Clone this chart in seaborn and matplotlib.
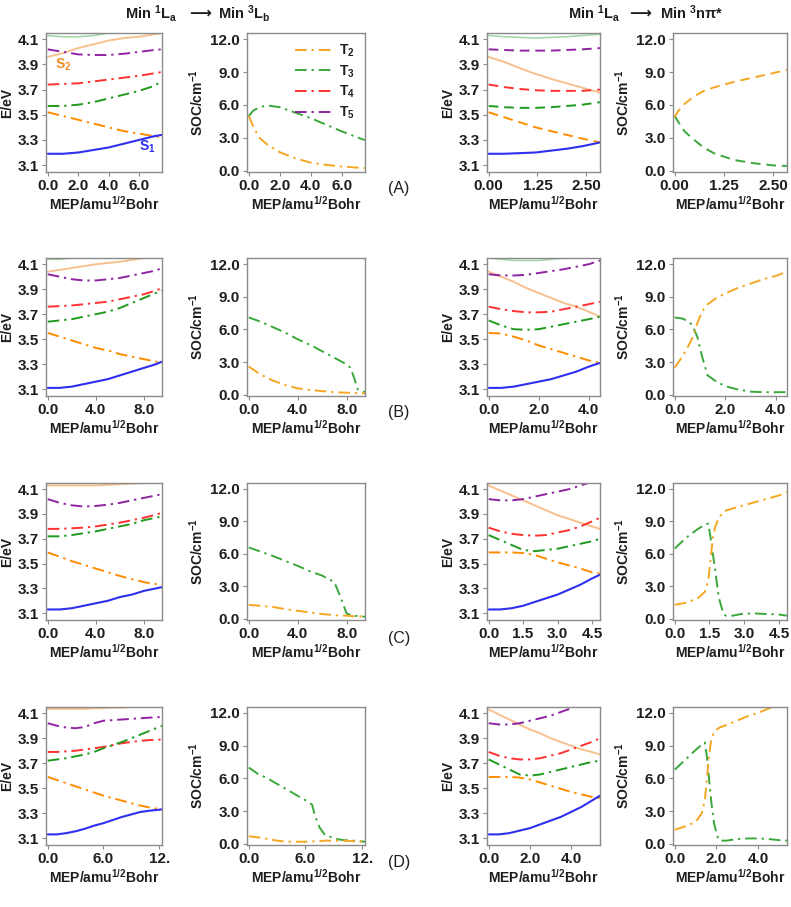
import numpy as np
import pandas as pd
import matplotlib
matplotlib.use("Agg")
import matplotlib.pyplot as plt
from matplotlib.lines import Line2D
import seaborn as sns

# ---------------- data ----------------
# Row A, left (Min 1La -> Min 3Lb)
A_L_x = [0, 1, 2, 3, 4, 5, 6, 7, 7.5]
A_L_S1 = [3.19, 3.19, 3.20, 3.22, 3.24, 3.27, 3.30, 3.33, 3.34]
A_L_S2 = [3.96, 3.99, 4.03, 4.06, 4.09, 4.11, 4.12, 4.14, 4.15]
A_L_T2 = [3.52, 3.49, 3.46, 3.43, 3.40, 3.37, 3.35, 3.33, 3.32]
A_L_T3 = [3.57, 3.57, 3.58, 3.60, 3.63, 3.66, 3.69, 3.73, 3.77]
A_L_T4 = [3.74, 3.745, 3.75, 3.765, 3.78, 3.795, 3.81, 3.83, 3.84]
A_L_T5 = [4.02, 4.00, 3.98, 3.975, 3.975, 3.985, 4.00, 4.015, 4.02]
A_L_T6 = [4.13, 4.12, 4.12, 4.13, 4.15, 4.17, 4.19, 4.21, 4.22]
A_L_soc_x = [0, 0.3, 0.7, 1.2, 2, 3, 4, 5, 6, 7, 7.5]
A_L_soc_T2 = [5.0, 4.0, 3.0, 2.4, 1.7, 1.15, 0.75, 0.55, 0.4, 0.3, 0.25]
A_L_soc_T3 = [5.0, 5.5, 5.8, 5.95, 5.8, 5.3, 4.8, 4.2, 3.6, 3.05, 2.8]

# Row A, right (Min 1La -> Min 3npi*)
A_R_x = [0, 0.4, 0.8, 1.2, 1.6, 2.0, 2.4, 2.85]
A_R_S1 = [3.19, 3.19, 3.195, 3.20, 3.215, 3.23, 3.25, 3.28]
A_R_S2 = [3.96, 3.92, 3.87, 3.825, 3.785, 3.75, 3.715, 3.675]
A_R_T2 = [3.52, 3.48, 3.44, 3.40, 3.37, 3.34, 3.31, 3.28]
A_R_T3 = [3.57, 3.56, 3.555, 3.555, 3.56, 3.57, 3.58, 3.60]
A_R_T4 = [3.74, 3.72, 3.705, 3.695, 3.69, 3.69, 3.69, 3.70]
A_R_T5 = [4.02, 4.015, 4.01, 4.01, 4.01, 4.015, 4.02, 4.03]
A_R_T6 = [4.13, 4.12, 4.115, 4.11, 4.115, 4.12, 4.13, 4.14]
A_R_soc_x = [0, 0.1, 0.25, 0.5, 0.75, 1.0, 1.5, 2.0, 2.5, 2.85]
A_R_soc_T2 = [4.9, 5.5, 6.1, 6.8, 7.3, 7.6, 8.1, 8.5, 8.9, 9.2]
A_R_soc_T3 = [5.0, 4.4, 3.6, 2.8, 2.1, 1.6, 1.0, 0.7, 0.5, 0.45]

# Row B, left
B_L_x = [0, 1, 2, 3, 4, 5, 6, 7, 8, 9, 9.5]
B_L_S1 = [3.11, 3.11, 3.12, 3.14, 3.16, 3.18, 3.21, 3.24, 3.27, 3.30, 3.32]
B_L_S2 = [4.04, 4.055, 4.07, 4.085, 4.10, 4.11, 4.12, 4.135, 4.15, 4.165, 4.17]
B_L_T2 = [3.55, 3.52, 3.49, 3.46, 3.43, 3.41, 3.38, 3.36, 3.34, 3.32, 3.31]
B_L_T3 = [3.64, 3.65, 3.66, 3.68, 3.70, 3.72, 3.75, 3.79, 3.83, 3.87, 3.89]
B_L_T4 = [3.76, 3.765, 3.77, 3.78, 3.79, 3.80, 3.82, 3.84, 3.86, 3.89, 3.91]
B_L_T5 = [4.02, 4.00, 3.98, 3.97, 3.97, 3.98, 3.99, 4.01, 4.03, 4.05, 4.07]
B_L_T6 = [4.14, 4.14, 4.15, 4.17, 4.19, 4.21, 4.23, 4.25, 4.27, 4.29, 4.30]
B_L_soc_x = [0, 1, 2, 3, 4, 5, 6, 7, 8, 8.3, 8.6, 8.9, 9.5]
B_L_soc_T2 = [2.6, 1.85, 1.3, 0.9, 0.6, 0.45, 0.35, 0.25, 0.2, 0.2, 0.18, 0.15, 0.15]
B_L_soc_T3 = [7.1, 6.7, 6.2, 5.7, 5.1, 4.6, 4.0, 3.4, 2.8, 2.5, 1.6, 0.5, 0.25]

# Row B, right
B_R_x = [0, 0.5, 1, 1.5, 2, 2.5, 3, 3.5, 4, 4.45]
B_R_S1 = [3.11, 3.11, 3.12, 3.14, 3.16, 3.18, 3.21, 3.24, 3.28, 3.31]
B_R_S2 = [4.04, 4.00, 3.96, 3.91, 3.87, 3.83, 3.79, 3.76, 3.72, 3.68]
B_R_T2 = [3.55, 3.545, 3.52, 3.49, 3.45, 3.42, 3.39, 3.36, 3.33, 3.31]
B_R_T3 = [3.65, 3.61, 3.58, 3.575, 3.58, 3.60, 3.62, 3.64, 3.66, 3.68]
B_R_T4 = [3.76, 3.74, 3.725, 3.715, 3.715, 3.72, 3.74, 3.76, 3.78, 3.80]
B_R_T5 = [4.02, 4.01, 4.01, 4.015, 4.03, 4.045, 4.06, 4.08, 4.10, 4.13]
B_R_T6 = [4.15, 4.14, 4.13, 4.13, 4.13, 4.14, 4.15, 4.17, 4.19, 4.21]
B_R_soc_x = [0, 0.3, 0.5, 0.7, 0.9, 1.1, 1.3, 1.6, 2.0, 2.5, 3.0, 3.5, 4.0, 4.45]
B_R_soc_T2 = [2.5, 3.5, 4.3, 5.2, 6.6, 7.7, 8.3, 8.8, 9.3, 9.8, 10.2, 10.6, 10.9, 11.3]
B_R_soc_T3 = [7.1, 7.0, 6.8, 6.4, 5.3, 3.4, 1.8, 1.3, 0.8, 0.5, 0.3, 0.25, 0.25, 0.25]

# Row C, left
C_L_x = [0, 1, 2, 3, 4, 5, 6, 7, 8, 9, 9.5]
C_L_S1 = [3.13, 3.13, 3.14, 3.16, 3.18, 3.20, 3.23, 3.25, 3.28, 3.30, 3.31]
C_L_S2 = [4.13, 4.13, 4.13, 4.13, 4.13, 4.135, 4.14, 4.145, 4.15, 4.155, 4.16]
C_L_T2 = [3.59, 3.555, 3.52, 3.49, 3.46, 3.43, 3.40, 3.375, 3.35, 3.335, 3.33]
C_L_T3 = [3.72, 3.72, 3.73, 3.745, 3.76, 3.78, 3.80, 3.82, 3.85, 3.87, 3.88]
C_L_T4 = [3.78, 3.78, 3.785, 3.79, 3.80, 3.815, 3.83, 3.85, 3.87, 3.895, 3.91]
C_L_T5 = [4.02, 3.99, 3.97, 3.96, 3.965, 3.975, 3.99, 4.01, 4.03, 4.05, 4.06]
C_L_soc_x = [0, 1, 2, 3, 4, 5, 6, 7, 7.5, 8, 8.5, 9, 9.5]
C_L_soc_T2 = [1.3, 1.2, 1.1, 0.9, 0.75, 0.6, 0.45, 0.35, 0.3, 0.3, 0.25, 0.25, 0.2]
C_L_soc_T3 = [6.6, 6.2, 5.8, 5.35, 4.9, 4.4, 4.0, 3.4, 2.0, 0.5, 0.3, 0.25, 0.2]

# Row C, right
C_R_x = [0, 0.5, 1, 1.5, 2, 2.5, 3, 3.5, 4, 4.5, 4.85]
C_R_S1 = [3.13, 3.13, 3.14, 3.16, 3.19, 3.22, 3.25, 3.29, 3.33, 3.38, 3.41]
C_R_S2 = [4.13, 4.09, 4.05, 4.01, 3.97, 3.93, 3.89, 3.86, 3.83, 3.80, 3.78]
C_R_T2 = [3.59, 3.59, 3.59, 3.585, 3.57, 3.54, 3.51, 3.485, 3.46, 3.43, 3.42]
C_R_T3 = [3.73, 3.69, 3.65, 3.61, 3.60, 3.61, 3.62, 3.64, 3.66, 3.68, 3.70]
C_R_T4 = [3.79, 3.76, 3.74, 3.73, 3.725, 3.73, 3.75, 3.77, 3.80, 3.84, 3.87]
C_R_T5 = [4.02, 4.01, 4.01, 4.02, 4.04, 4.06, 4.08, 4.10, 4.13, 4.16, 4.18]
C_R_T6 = [4.17, 4.16, 4.15, 4.15, 4.15, 4.16, 4.17, 4.19, 4.21, 4.23, 4.25]
C_R_soc_x = [0, 0.5, 1.0, 1.3, 1.45, 1.55, 1.65, 1.75, 1.9, 2.1, 2.2, 2.5, 3.0, 3.5, 4.0, 4.5, 4.85]
C_R_soc_T2 = [1.3, 1.5, 1.9, 2.5, 3.5, 5.5, 7.5, 8.5, 9.3, 9.9, 10.0, 10.2, 10.5, 10.8, 11.1, 11.4, 11.7]
C_R_soc_T3 = [6.5, 7.5, 8.3, 8.7, 8.8, 7.5, 6.0, 4.5, 2.0, 0.5, 0.3, 0.3, 0.5, 0.5, 0.45, 0.4, 0.3]

# Row D, left
D_L_x = [0, 1, 2, 3, 4, 5, 6, 7, 8, 9, 10, 11, 12.3]
D_L_S1 = [3.13, 3.13, 3.14, 3.155, 3.175, 3.20, 3.22, 3.245, 3.27, 3.29, 3.31, 3.32, 3.33]
D_L_S2 = [4.135, 4.135, 4.135, 4.135, 4.135, 4.14, 4.14, 4.145, 4.145, 4.15, 4.155, 4.16, 4.165]
D_L_T2 = [3.59, 3.565, 3.54, 3.515, 3.49, 3.465, 3.44, 3.42, 3.40, 3.38, 3.36, 3.345, 3.33]
D_L_T3 = [3.72, 3.73, 3.74, 3.755, 3.77, 3.79, 3.82, 3.845, 3.87, 3.90, 3.93, 3.96, 4.00]
D_L_T4 = [3.79, 3.79, 3.795, 3.80, 3.81, 3.82, 3.83, 3.845, 3.86, 3.87, 3.88, 3.885, 3.89]
D_L_T5 = [4.02, 4.00, 3.985, 3.98, 3.99, 4.02, 4.04, 4.045, 4.05, 4.055, 4.06, 4.065, 4.07]
D_L_soc_x = [0, 1, 2, 3, 4, 5, 6, 6.7, 7.0, 7.5, 8, 9, 10, 11, 12.3]
D_L_soc_T2 = [0.7, 0.6, 0.45, 0.3, 0.2, 0.2, 0.2, 0.22, 0.25, 0.25, 0.3, 0.3, 0.3, 0.25, 0.2]
D_L_soc_T3 = [7.0, 6.4, 6.0, 5.5, 5.0, 4.5, 4.0, 3.6, 2.6, 1.5, 0.9, 0.5, 0.35, 0.3, 0.2]

# Row D, right
D_R_x = [0, 0.5, 1, 1.5, 2, 2.5, 3, 3.5, 4, 4.5, 5, 5.4]
D_R_S1 = [3.13, 3.13, 3.14, 3.16, 3.18, 3.21, 3.24, 3.27, 3.31, 3.35, 3.40, 3.44]
D_R_S2 = [4.13, 4.09, 4.05, 4.01, 3.97, 3.94, 3.90, 3.87, 3.84, 3.81, 3.79, 3.77]
D_R_T2 = [3.59, 3.59, 3.59, 3.585, 3.57, 3.545, 3.52, 3.495, 3.47, 3.45, 3.43, 3.42]
D_R_T3 = [3.73, 3.69, 3.65, 3.61, 3.60, 3.61, 3.63, 3.65, 3.67, 3.69, 3.71, 3.72]
D_R_T4 = [3.79, 3.76, 3.74, 3.73, 3.73, 3.74, 3.76, 3.78, 3.81, 3.84, 3.87, 3.90]
D_R_T5 = [4.02, 4.01, 4.01, 4.02, 4.04, 4.06, 4.08, 4.11, 4.14, 4.17, 4.20, 4.22]
D_R_T6 = [4.17, 4.16, 4.15, 4.15, 4.15, 4.16, 4.17, 4.19, 4.21, 4.23, 4.25, 4.27]
D_R_soc_x = [0, 0.5, 1.0, 1.3, 1.45, 1.55, 1.65, 1.75, 1.9, 2.1, 2.2, 2.5, 3.0, 3.5, 4.0, 4.5, 5.0, 5.4]
D_R_soc_T2 = [1.3, 1.6, 2.0, 2.8, 4.0, 6.0, 8.0, 9.5, 10.3, 10.6, 10.7, 10.9, 11.3, 11.7, 12.0, 12.4, 12.7, 13.0]
D_R_soc_T3 = [6.8, 7.7, 8.6, 9.1, 9.3, 8.0, 6.0, 4.0, 1.8, 0.4, 0.3, 0.3, 0.45, 0.5, 0.5, 0.45, 0.35, 0.3]

row_labels = ["(A)", "(B)", "(C)", "(D)"]
x_ticks_left = [[0, 2, 4, 6], [0, 4, 8], [0, 4, 8], [0, 6, 12]]
x_ticklabels_left = [["0.0", "2.0", "4.0", "6.0"], ["0.0", "4.0", "8.0"], ["0.0", "4.0", "8.0"], ["0.0", "6.0", "12."]]
x_ticks_right = [[0, 1.25, 2.5], [0, 2, 4], [0, 1.5, 3.0, 4.5], [0, 2, 4]]
x_ticklabels_right = [["0.00", "1.25", "2.50"], ["0.0", "2.0", "4.0"], ["0.0", "1.5", "3.0", "4.5"], ["0.0", "2.0", "4.0"]]
x_max_left = [7.5, 9.5, 9.5, 12.3]
x_max_right = [2.85, 4.45, 4.85, 5.4]
e_ticks = [3.1, 3.3, 3.5, 3.7, 3.9, 4.1]
soc_ticks = [0.0, 3.0, 6.0, 9.0, 12.0]

# ---------------- style ----------------
sns.set_theme(style="white")
plt.rcParams['font.family'] = ['Liberation Sans', 'DejaVu Sans']
plt.rcParams['font.weight'] = 'bold'
plt.rcParams['mathtext.fontset'] = 'custom'
plt.rcParams['mathtext.rm'] = 'Liberation Sans:bold'
plt.rcParams['mathtext.bf'] = 'Liberation Sans:bold'
plt.rcParams['mathtext.it'] = 'Liberation Sans:bold'

C_S1 = "#2f2ff0"
C_S2 = "#f7c08e"
C_T2 = "#ff8c00"
C_T2s = "#f5a623"
C_T3 = "#1f9a1f"
C_T3s = "#3aa83a"
C_T4 = "#ff3030"
C_T5 = "#8e24a0"
C_T6 = "#9fd49f"
DASHDOT = (0, (6, 2.5, 1.2, 2.5))
DASHED = (0, (5, 3))
TXT = "#1e1e1e"
FS = 11

W, H = 791, 907
fig = plt.figure(figsize=(W / 100, H / 100), dpi=100)

cols = [(46, 162), (247, 365), (487, 600), (673, 787)]
rows = [(33, 172), (258, 396), (483, 620), (707, 845)]


def make_ax(col, row):
    l, r = cols[col]
    t, b = rows[row]
    ax = fig.add_axes([l / W, 1 - b / H, (r - l) / W, (b - t) / H])
    for s in ax.spines.values():
        s.set_color("#8a8a8a")
        s.set_linewidth(1.0)
    ax.tick_params(axis="both", direction="out", length=3, width=0.8, color="#8a8a8a",
                   labelsize=FS, pad=2, bottom=True, left=True, labelcolor=TXT)
    return ax


def draw(ax, x, y, color, ls, lw=1.4, alpha=1.0):
    sns.lineplot(x=x, y=y, ax=ax, color=color, linestyle=ls, linewidth=lw, alpha=alpha,
                 estimator=None, sort=False)


xlabel = r"MEP/amu$^{1/2}$Bohr"

energy_sets = [
    [(A_L_x, A_L_S1, A_L_S2, A_L_T2, A_L_T3, A_L_T4, A_L_T5, A_L_T6),
     (A_R_x, A_R_S1, A_R_S2, A_R_T2, A_R_T3, A_R_T4, A_R_T5, A_R_T6)],
    [(B_L_x, B_L_S1, B_L_S2, B_L_T2, B_L_T3, B_L_T4, B_L_T5, B_L_T6),
     (B_R_x, B_R_S1, B_R_S2, B_R_T2, B_R_T3, B_R_T4, B_R_T5, B_R_T6)],
    [(C_L_x, C_L_S1, C_L_S2, C_L_T2, C_L_T3, C_L_T4, C_L_T5, None),
     (C_R_x, C_R_S1, C_R_S2, C_R_T2, C_R_T3, C_R_T4, C_R_T5, C_R_T6)],
    [(D_L_x, D_L_S1, D_L_S2, D_L_T2, D_L_T3, D_L_T4, D_L_T5, None),
     (D_R_x, D_R_S1, D_R_S2, D_R_T2, D_R_T3, D_R_T4, D_R_T5, D_R_T6)],
]
soc_sets = [
    [(A_L_soc_x, A_L_soc_T2, A_L_soc_T3), (A_R_soc_x, A_R_soc_T2, A_R_soc_T3)],
    [(B_L_soc_x, B_L_soc_T2, B_L_soc_T3), (B_R_soc_x, B_R_soc_T2, B_R_soc_T3)],
    [(C_L_soc_x, C_L_soc_T2, C_L_soc_T3), (C_R_soc_x, C_R_soc_T2, C_R_soc_T3)],
    [(D_L_soc_x, D_L_soc_T2, D_L_soc_T3), (D_R_soc_x, D_R_soc_T2, D_R_soc_T3)],
]

for r in range(4):
    for g in range(2):
        ls = DASHED if (r == 0 and g == 1) else DASHDOT
        xmax = x_max_left[r] if g == 0 else x_max_right[r]
        ticks = x_ticks_left[r] if g == 0 else x_ticks_right[r]
        tlabels = x_ticklabels_left[r] if g == 0 else x_ticklabels_right[r]
        xmin = -0.015 * xmax

        # energy panel
        ax = make_ax(2 * g, r)
        x, S1, S2, T2, T3, T4, T5, T6 = energy_sets[r][g]
        if T6 is not None:
            draw(ax, x, T6, C_T6, "-", lw=1.2, alpha=0.9)
        draw(ax, x, S2, C_S2, "-", lw=1.4)
        draw(ax, x, T5, C_T5, ls)
        draw(ax, x, T4, C_T4, ls)
        draw(ax, x, T3, C_T3, ls)
        draw(ax, x, T2, C_T2, ls)
        draw(ax, x, S1, C_S1, "-", lw=1.5)
        ax.set_xlim(xmin, xmax)
        ax.set_ylim(3.045, 4.15)
        ax.set_yticks(e_ticks)
        ax.set_yticklabels([f"{v:.1f}" for v in e_ticks])
        ax.set_xticks(ticks)
        ax.set_xticklabels(tlabels)
        ax.set_xlabel(xlabel, fontsize=10, fontweight="bold", labelpad=1, color=TXT)
        ax.set_ylabel("E/eV", fontsize=10, fontweight="bold", labelpad=3, color=TXT)
        if r == 0 and g == 0:
            ax.text(0.5, 3.87, r"S$_2$", color="#f28c28", fontsize=10, fontweight="bold")
            ax.text(6.0, 3.215, r"S$_1$", color=C_S1, fontsize=10, fontweight="bold")

        # SOC panel
        ax2 = make_ax(2 * g + 1, r)
        sx, sT2, sT3 = soc_sets[r][g]
        draw(ax2, sx, sT3, C_T3s, ls)
        draw(ax2, sx, sT2, C_T2s, ls)
        ax2.set_xlim(xmin, xmax)
        ax2.set_ylim(-0.1, 12.55)
        ax2.set_yticks(soc_ticks)
        ax2.set_yticklabels([f"{v:.1f}" for v in soc_ticks])
        ax2.set_xticks(ticks)
        ax2.set_xticklabels(tlabels)
        ax2.set_xlabel(xlabel, fontsize=10, fontweight="bold", labelpad=1, color=TXT)
        ax2.set_ylabel(r"SOC/cm$^{-1}$", fontsize=10, fontweight="bold", labelpad=3, color=TXT)
        if r == 0 and g == 0:
            handles = [Line2D([], [], color=C_T2s, linestyle=DASHDOT, lw=1.4),
                       Line2D([], [], color=C_T3s, linestyle=DASHDOT, lw=1.4),
                       Line2D([], [], color=C_T4, linestyle=DASHDOT, lw=1.4),
                       Line2D([], [], color=C_T5, linestyle=DASHDOT, lw=1.4)]
            leg = ax2.legend(handles, [r"T$_2$", r"T$_3$", r"T$_4$", r"T$_5$"], loc="upper right",
                             frameon=False, fontsize=10, handlelength=2.6, handletextpad=0.6,
                             labelspacing=0.3, borderaxespad=0.3)
            for t in leg.get_texts():
                t.set_color(TXT)

    fig.text(399 / W, 1 - (188 + 225 * r) / H, row_labels[r], ha="center", va="center",
             fontsize=11.5, fontweight="normal", color=TXT)

# column headers
HY = 1 - 13 / H
fig.text(177 / W, HY, r"Min $^{1}$L$_{a}$", ha="right", va="center", fontsize=10.5,
         fontweight="bold", color=TXT)
fig.text(200 / W, HY, "\u27f6", ha="center", va="center", fontsize=11,
         family="DejaVu Sans", color=TXT)
fig.text(218 / W, HY, r"Min $^{3}$L$_{b}$", ha="left", va="center", fontsize=10.5,
         fontweight="bold", color=TXT)
fig.text(620 / W, HY, r"Min $^{1}$L$_{a}$", ha="right", va="center", fontsize=10.5,
         fontweight="bold", color=TXT)
fig.text(640 / W, HY, "\u27f6", ha="center", va="center", fontsize=11,
         family="DejaVu Sans", color=TXT)
fig.text(660 / W, HY, r"Min $^{3}$n$\pi$*", ha="left", va="center", fontsize=10.5,
         fontweight="bold", color=TXT)

fig.savefig("out.png", dpi=100, facecolor="white")
